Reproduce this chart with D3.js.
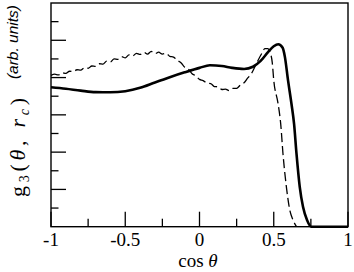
<!DOCTYPE html>
<html>
<head>
  <meta charset="utf-8">
  <title>g3 angular distribution</title>
  <script src="https://d3js.org/d3.v7.min.js"></script>
  <style>
    body { margin: 0; background: #fff; }
    .tick-label { font-family: "Liberation Serif", serif; font-size: 19px; fill: #000; }
  </style>
</head>
<body>
<div id="chart"></div>
<script>
// data
var xTicks = [-1, -0.5, 0, 0.5, 1];
var xTickLabels = ["-1", "-0.5", "0", "0.5", "1"];
var xMinor = [-0.75, -0.25, 0.25, 0.75];
var yMajor = [0.2, 0.4, 0.6, 0.8, 1.0];
var yMinor = [0.1, 0.3, 0.5, 0.7, 0.9, 1.1];

var solidX = [-1.0, -0.9, -0.8, -0.7, -0.6, -0.5, -0.4, -0.3, -0.2, -0.1, 0.0, 0.07, 0.15, 0.22, 0.3, 0.36, 0.41, 0.46, 0.5, 0.53, 0.56, 0.575, 0.596, 0.619, 0.637, 0.653, 0.675, 0.697, 0.724, 0.753, 0.85, 1.0];
var solidY = [0.748, 0.740, 0.730, 0.722, 0.721, 0.727, 0.745, 0.774, 0.802, 0.828, 0.852, 0.866, 0.862, 0.852, 0.846, 0.858, 0.888, 0.935, 0.968, 0.979, 0.960, 0.911, 0.786, 0.661, 0.550, 0.393, 0.214, 0.107, 0.036, 0.0, 0.0, 0.0];

var dashX = [-1.0, -0.975, -0.95, -0.925, -0.9, -0.875, -0.85, -0.825, -0.8, -0.775, -0.75, -0.725, -0.7, -0.675, -0.65, -0.625, -0.6, -0.575, -0.55, -0.525, -0.5, -0.475, -0.45, -0.425, -0.4, -0.375, -0.35, -0.325, -0.3, -0.275, -0.25, -0.225, -0.2, -0.175, -0.15, -0.125, -0.1, -0.075, -0.05, -0.025, 0.0, 0.025, 0.05, 0.075, 0.1, 0.125, 0.15, 0.175, 0.2, 0.225, 0.25, 0.275, 0.3, 0.325, 0.35, 0.39, 0.42, 0.44, 0.46, 0.48, 0.49, 0.5, 0.529, 0.547, 0.562, 0.585, 0.608, 0.63, 0.653];
var dashY = [0.812, 0.818, 0.814, 0.826, 0.822, 0.834, 0.832, 0.842, 0.840, 0.852, 0.850, 0.862, 0.860, 0.874, 0.872, 0.888, 0.884, 0.900, 0.898, 0.912, 0.906, 0.922, 0.916, 0.930, 0.924, 0.936, 0.926, 0.940, 0.928, 0.936, 0.926, 0.930, 0.914, 0.910, 0.892, 0.880, 0.856, 0.846, 0.820, 0.810, 0.790, 0.784, 0.770, 0.768, 0.752, 0.750, 0.736, 0.738, 0.730, 0.742, 0.742, 0.760, 0.772, 0.798, 0.822, 0.886, 0.930, 0.955, 0.955, 0.925, 0.880, 0.786, 0.661, 0.550, 0.393, 0.214, 0.089, 0.036, 0.0];

var W = 354, H = 272;
var margin = { top: 3, right: 6, bottom: 45.3, left: 51 };
var width = W - margin.left - margin.right;
var height = H - margin.top - margin.bottom;

var svg = d3.select("#chart").append("svg")
  .attr("width", W)
  .attr("height", H);

var g = svg.append("g")
  .attr("transform", "translate(" + margin.left + "," + margin.top + ")");

var x = d3.scaleLinear().domain([-1, 1]).range([0, width]);
var y = d3.scaleLinear().domain([0, 1.2]).range([height, 0]);

// frame
g.append("rect")
  .attr("width", width)
  .attr("height", height)
  .attr("fill", "none")
  .attr("stroke", "#000")
  .attr("stroke-width", 1.4);

// x ticks (inward)
g.selectAll(".xmaj").data(xTicks).enter().append("line")
  .attr("x1", function(d) { return x(d); }).attr("x2", function(d) { return x(d); })
  .attr("y1", height).attr("y2", height - 15)
  .attr("stroke", "#000").attr("stroke-width", 1.3);
g.selectAll(".xmin").data(xMinor).enter().append("line")
  .attr("x1", function(d) { return x(d); }).attr("x2", function(d) { return x(d); })
  .attr("y1", height).attr("y2", height - 8)
  .attr("stroke", "#000").attr("stroke-width", 1.3);

// y ticks (inward, no labels)
g.selectAll(".ymaj").data(yMajor).enter().append("line")
  .attr("x1", 0).attr("x2", 15)
  .attr("y1", function(d) { return y(d); }).attr("y2", function(d) { return y(d); })
  .attr("stroke", "#000").attr("stroke-width", 1.3);
g.selectAll(".ymin").data(yMinor).enter().append("line")
  .attr("x1", 0).attr("x2", 7.5)
  .attr("y1", function(d) { return y(d); }).attr("y2", function(d) { return y(d); })
  .attr("stroke", "#000").attr("stroke-width", 1.3);

// x tick labels
g.selectAll(".tick-label").data(xTicks).enter().append("text")
  .attr("class", "tick-label")
  .attr("x", function(d) { return x(d); })
  .attr("y", height + 19)
  .attr("text-anchor", "middle")
  .text(function(d, i) { return xTickLabels[i]; });

// curves
var line = d3.line()
  .x(function(d) { return x(d[0]); })
  .y(function(d) { return y(d[1]); })
  .curve(d3.curveMonotoneX);

g.append("path")
  .datum(dashX.map(function(v, i) { return [v, dashY[i]]; }))
  .attr("d", line)
  .attr("fill", "none")
  .attr("stroke", "#000")
  .attr("stroke-width", 1.3)
  .attr("stroke-dasharray", "9,4");

g.append("path")
  .datum(solidX.map(function(v, i) { return [v, solidY[i]]; }))
  .attr("d", line)
  .attr("fill", "none")
  .attr("stroke", "#000")
  .attr("stroke-width", 2.6)
  .attr("stroke-linejoin", "round");

// x axis title
var xt = svg.append("text")
  .attr("x", 198)
  .attr("y", 267)
  .attr("text-anchor", "middle")
  .style("font-family", "'Liberation Serif', serif")
  .style("font-size", "19px");
xt.append("tspan").text("cos ");
xt.append("tspan").style("font-style", "italic").text("θ");

// y axis title: serif part + sans italic part
var yt = svg.append("text")
  .attr("transform", "translate(25,197) rotate(-90)")
  .attr("textLength", 99)
  .attr("lengthAdjust", "spacing")
  .style("font-family", "'Liberation Serif', serif")
  .style("font-size", "22px");
yt.append("tspan").text("g");
yt.append("tspan").attr("dy", 4).style("font-size", "14px").text("3");
yt.append("tspan").attr("dy", -4).text("(");
yt.append("tspan").style("font-style", "italic").text("θ");
yt.append("tspan").text(", ");
yt.append("tspan").style("font-style", "italic").text("r");
yt.append("tspan").attr("dy", 4).style("font-size", "14px").style("font-style", "italic").text("c");
yt.append("tspan").attr("dy", -4).text(")");

svg.append("text")
  .attr("transform", "translate(18,5) rotate(-90)")
  .attr("text-anchor", "end")
  .style("font-family", "'Liberation Sans', sans-serif")
  .style("font-style", "italic")
  .style("font-size", "15.5px")
  .text("(arb. units)");
</script>
</body>
</html>
